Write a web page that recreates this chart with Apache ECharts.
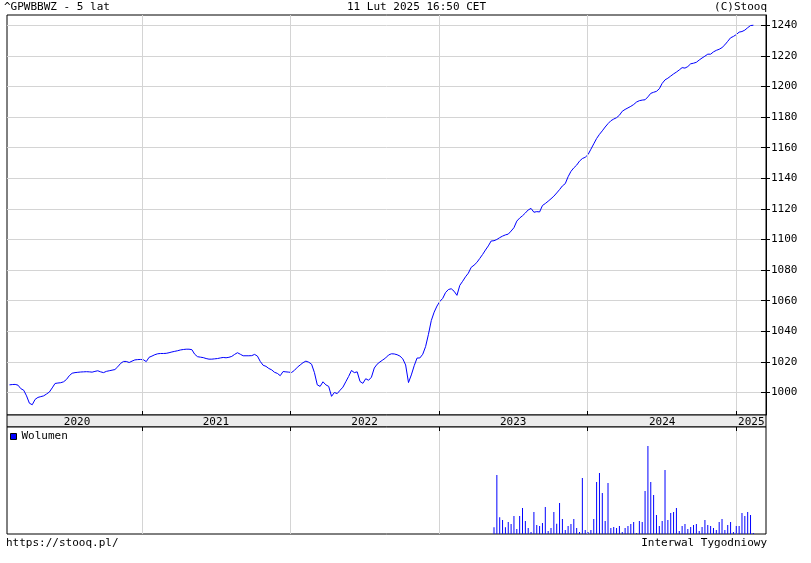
<!DOCTYPE html>
<html>
<head>
<meta charset="utf-8">
<script src="https://cdn.jsdelivr.net/npm/echarts@6/dist/echarts.min.js"></script>
<style>html,body{margin:0;padding:0;background:#fff}#c{width:811px;height:563px}</style>
</head>
<body>
<div id="c"></div>
<script>
// ---- data ----
var startDate = '2020-02-11'; // first weekly bar
var price = [
1005,1005.2,1005.3,1004.8,1002.5,1001.5,997.8,993,992,995.5,
996.8,997.3,997.8,999,1000.3,1003,1005.9,1006.2,1006.4,1007,
1008.5,1011,1012.6,1013,1013.2,1013.4,1013.5,1013.6,1013.5,1013.3,
1013.8,1014.2,1013.5,1013,1013.8,1014.2,1014.6,1015,1016.8,1019,
1020.3,1020.3,1019.6,1020.5,1021.3,1021.5,1021.6,1021.4,1020.2,1023,
1023.8,1024.7,1025.3,1025.5,1025.5,1025.6,1026,1026.5,1026.9,1027.3,
1027.8,1028.1,1028.3,1028.3,1028,1025,1023.4,1023.1,1022.8,1022.2,
1021.8,1021.8,1022,1022.2,1022.6,1022.9,1022.7,1023,1023.6,1024.9,
1026,1025,1024,1024,1024,1024.1,1024.9,1023.8,1020.3,1017.8,
1017.1,1015.7,1014.8,1013.2,1012.5,1011,1013.7,1013.5,1013.3,1013.1,
1014.5,1016.5,1018,1019.5,1020.5,1019.8,1018.5,1013,1005,1004,
1007,1005,1004,997.5,1000,999.3,1001.5,1003.5,1007,1010.5,
1014.4,1013,1013.5,1007.2,1006,1009,1008,1010,1016,1018.5,
1020,1021.3,1022.6,1024.5,1025.3,1025.2,1024.7,1023.8,1022,1018,
1006.5,1011.5,1017.5,1022.5,1022.6,1025,1030,1038,1047,1052.5,
1056.5,1059.5,1061.5,1065.3,1067.3,1067.8,1066.2,1063.5,1070,1072.7,
1075.6,1078,1081.8,1083.2,1085,1087.6,1090.2,1093.1,1095.8,1099,
1099.2,1100,1101.2,1102.2,1103,1103.5,1105.5,1107.7,1112,1114,
1115.5,1117.3,1119.3,1120.3,1117.8,1118.2,1118,1122.2,1123.5,1125,
1126.6,1128.3,1130.4,1132.6,1135,1136.5,1141,1144.5,1146.8,1148.6,
1151.2,1152.9,1153.7,1155.5,1159,1162.5,1166,1168.7,1171,1173.5,
1175.7,1177.6,1178.7,1179.6,1181.2,1183.8,1185,1186,1187,1188.2,
1189.8,1190.7,1191.1,1191.3,1193.2,1195.5,1196.2,1196.8,1198.5,1202,
1204.3,1205.4,1206.8,1208.2,1209.4,1210.8,1212.3,1212,1213,1214.8,
1215.2,1215.8,1217.3,1218.6,1219.8,1221.1,1221.1,1222.6,1223.6,1224.3,
1225.4,1227.2,1229.5,1231.8,1232.7,1233.9,1235.5,1235.9,1236.8,1238.4,
1239.8,1240
];
// weekly volume (relative units), for the last weeks only
var volume = [
20,177,50,42,20,36,30,54,15,54,
78,39,18,6,66,27,24,33,81,9,
18,66,31,93,45,12,24,30,45,18,
6,168,12,6,12,45,156,183,123,39,
153,18,21,18,24,6,18,24,30,36,
3,39,36,129,264,156,117,57,24,39,
192,42,63,66,78,9,24,30,15,21,
27,30,9,21,42,27,24,18,12,36,
45,12,27,36,6,24,24,63,54,66,
57,3
];
var yTicks = [1000,1020,1040,1060,1080,1100,1120,1140,1160,1180,1200,1220,1240];
var yearStarts = ['2021-01-01','2022-01-01','2023-01-01','2024-01-01','2025-01-01'];
var yearLabelDates = ['2020-07-26','2021-07-02','2022-07-02','2023-07-02','2024-07-02','2025-02-06'];
var axisMinDate = '2020-02-05', axisMaxDate = '2025-03-14';

// ---- build ----
var DAY = 86400000;
function ts(s) { return Date.parse(s + 'T00:00:00Z'); }
var t0 = ts(startDate);
var dates = price.map(function (_, i) { return t0 + i * 7 * DAY; });
var priceData = price.map(function (v, i) { return [dates[i], v]; });
var off = price.length - volume.length;
var volData = volume.map(function (v, i) { return [dates[off + i], v]; });
var yearStartTs = yearStarts.map(ts), yearLabelTs = yearLabelDates.map(ts);
var xMin = ts(axisMinDate), xMax = ts(axisMaxDate);
var FONT = 'DejaVu Sans Mono';
var txt = { fontFamily: FONT, fontSize: 11, color: '#000', fontWeight: 'normal', lineHeight: 13 };
var GRID = '#d4d4d4';
function yearFmt(v) { return String(new Date(v).getUTCFullYear()); }

var chart = echarts.init(document.getElementById('c'), null, { renderer: 'canvas' });
chart.setOption({
  animation: false,
  backgroundColor: '#fff',
  title: [
    { text: '^GPWBBWZ - 5 lat', left: 4, top: 1, padding: 0, textStyle: txt },
    { text: '11 Lut 2025 16:50 CET', left: 347, top: 1, padding: 0, textStyle: txt },
    { text: '(C)Stooq', right: 44, top: 1, padding: 0, textStyle: txt },
    { text: 'https://stooq.pl/', left: 6, top: 537, padding: 0, textStyle: txt },
    { text: 'Interwal Tygodniowy', right: 44, top: 537, padding: 0, textStyle: txt }
  ],
  legend: {
    data: ['Wolumen'], left: 10, top: 431, padding: 0, icon: 'rect', itemWidth: 6, itemHeight: 6, itemGap: 5,
    textStyle: { fontFamily: FONT, fontSize: 11, color: '#000' },
    itemStyle: { borderColor: '#000', borderWidth: 1 }
  },
  grid: [
    { left: 7, top: 15, width: 759, height: 400, show: true, borderColor: '#000', borderWidth: 1, backgroundColor: '#fff' },
    { left: 7, top: 415, width: 759, height: 12, show: true, borderColor: '#000', borderWidth: 1, backgroundColor: '#ececec' },
    { left: 7, top: 427, width: 759, height: 107, show: true, borderColor: '#000', borderWidth: 1, backgroundColor: '#fff' }
  ],
  xAxis: [
    { gridIndex: 0, type: 'value', min: xMin, max: xMax, position: 'bottom', z: 5,
      axisLine: { show: false, onZero: false },
      axisTick: { show: true, inside: true, length: 4, customValues: yearStartTs, lineStyle: { color: '#000' } },
      splitLine: { show: true, lineStyle: { color: GRID, width: 1 } },
      axisLabel: { show: true, customValues: yearLabelTs, margin: 2, fontFamily: FONT, fontSize: 11, color: '#000', lineHeight: 11,
        formatter: yearFmt } },
    { gridIndex: 0, type: 'value', min: xMin, max: xMax, position: 'top',
      axisLine: { show: false, onZero: false }, axisLabel: { show: false }, splitLine: { show: false },
      axisTick: { show: true, inside: true, length: 4, customValues: yearStartTs, lineStyle: { color: '#000' } } },
    { gridIndex: 1, type: 'value', min: xMin, max: xMax, show: false },
    { gridIndex: 2, type: 'value', min: xMin, max: xMax, position: 'top',
      axisLine: { show: false, onZero: false }, axisLabel: { show: false },
      axisTick: { show: true, inside: true, length: 4, customValues: yearStartTs, lineStyle: { color: '#000' } },
      splitLine: { show: true, lineStyle: { color: GRID, width: 1 } } }
  ],
  yAxis: [
    { gridIndex: 0, type: 'value', position: 'right', min: 985.3, max: 1246.7,
      axisLine: { show: true, onZero: false, lineStyle: { color: '#000' } },
      axisTick: { show: true, inside: false, length: 4, customValues: yTicks, lineStyle: { color: '#000' } },
      axisLabel: { show: true, customValues: yTicks, margin: 5, fontFamily: FONT, fontSize: 11, color: '#000',
        formatter: function (v) { return String(v); } },
      splitLine: { show: true, lineStyle: { color: GRID, width: 1 } } },
    { gridIndex: 0, type: 'value', position: 'right', min: 985.3, max: 1246.7,
      axisLine: { show: false, onZero: false }, axisLabel: { show: false }, splitLine: { show: false },
      axisTick: { show: true, inside: true, length: 5, customValues: yTicks, lineStyle: { color: '#000' } } },
    { gridIndex: 1, type: 'value', min: 0, max: 1, show: false },
    { gridIndex: 2, type: 'value', min: 0, max: 321, show: false }
  ],
  series: [
    { name: 'Kurs', type: 'line', xAxisIndex: 0, yAxisIndex: 0, data: priceData, showSymbol: false, symbol: 'none',
      lineStyle: { color: '#0000ff', width: 1 }, itemStyle: { color: '#0000ff' }, z: 3 },
    { name: 'Wolumen', type: 'bar', xAxisIndex: 3, yAxisIndex: 3, data: volData, barWidth: 1,
      itemStyle: { color: '#0000ff' } }
  ]
});
</script>
</body>
</html>
